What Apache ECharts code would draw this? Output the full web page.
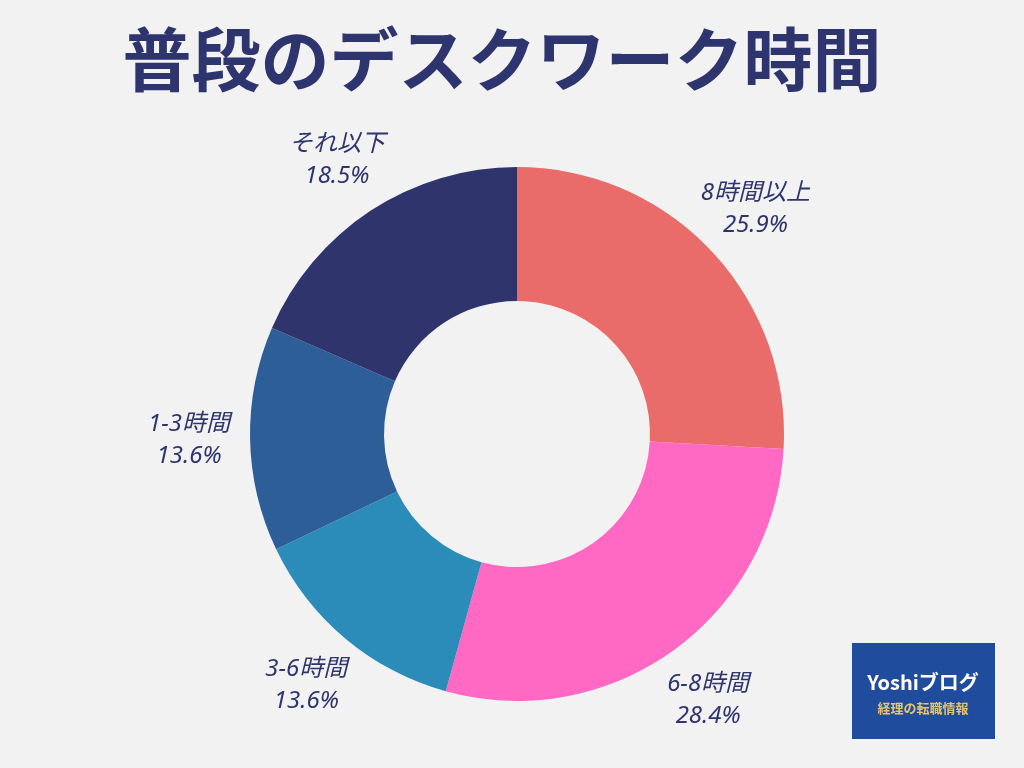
<!DOCTYPE html>
<html>
<head>
<meta charset="utf-8">
<script src="https://cdn.jsdelivr.net/npm/echarts@6/dist/echarts.min.js"></script>
<style>
html,body{margin:0;padding:0;background:#F2F2F2;}
#c{width:1024px;height:768px;}
</style>
</head>
<body>
<div id="c"></div>
<script>
const titleText = '普段のデスクワーク時間';
const categories = ['8時間以上', '6-8時間', '3-6時間', '1-3時間', 'それ以下'];
const values = [25.9, 28.4, 13.6, 13.6, 18.5];
const colors = ['#E96C6B', '#FF69C4', '#2B8CBA', '#2E5E97', '#30346D'];

const data = categories.map((c, i) => ({ name: c, value: values[i], itemStyle: { color: colors[i] } }));
const labelData = categories.map((c, i) => ({ name: c, value: values[i] }));

const chart = echarts.init(document.getElementById('c'));
chart.setOption({
  backgroundColor: '#F2F2F2',
  animation: false,
  title: {
    text: titleText,
    left: 497,
    top: 20,
    textAlign: 'center',
    textStyle: {
      fontFamily: 'Noto Sans CJK JP',
      fontWeight: 'bold',
      fontSize: 69,
      color: '#2E346D'
    }
  },
  series: [
    {
      type: 'pie',
      center: [517, 434],
      radius: [133, 267],
      startAngle: 90,
      clockwise: true,
      silent: true,
      label: { show: false },
      labelLine: { show: false },
      itemStyle: { borderWidth: 0 },
      data: data
    },
    {
      type: 'pie',
      center: [517, 434],
      radius: [295, 355],
      startAngle: 90,
      clockwise: true,
      silent: true,
      itemStyle: { color: 'rgba(0,0,0,0)', borderWidth: 0 },
      label: {
        show: true,
        position: 'inside',
        formatter: p => p.name + '\n' + p.value.toFixed(1) + '%',
        fontFamily: 'Noto Sans, Noto Sans CJK JP',
        fontStyle: 'italic',
        fontSize: 24,
        lineHeight: 32,
        color: '#2E346D',
        align: 'center'
      },
      labelLine: { show: false },
      data: labelData
    }
  ],
  graphic: [
    {
      type: 'rect',
      shape: { x: 852, y: 643, width: 143, height: 96 },
      style: { fill: '#1F4C9C' },
      silent: true
    },
    {
      type: 'text',
      style: {
        x: 923, y: 682, text: 'Yoshiブログ',
        fill: '#FFFFFF', font: 'bold 20px "Noto Sans CJK JP"',
        align: 'center', verticalAlign: 'middle'
      },
      silent: true
    },
    {
      type: 'text',
      style: {
        x: 923, y: 708, text: '経理の転職情報',
        fill: '#E8C46A', font: 'bold 13px "Noto Sans CJK JP"',
        align: 'center', verticalAlign: 'middle'
      },
      silent: true
    }
  ]
});
</script>
</body>
</html>
